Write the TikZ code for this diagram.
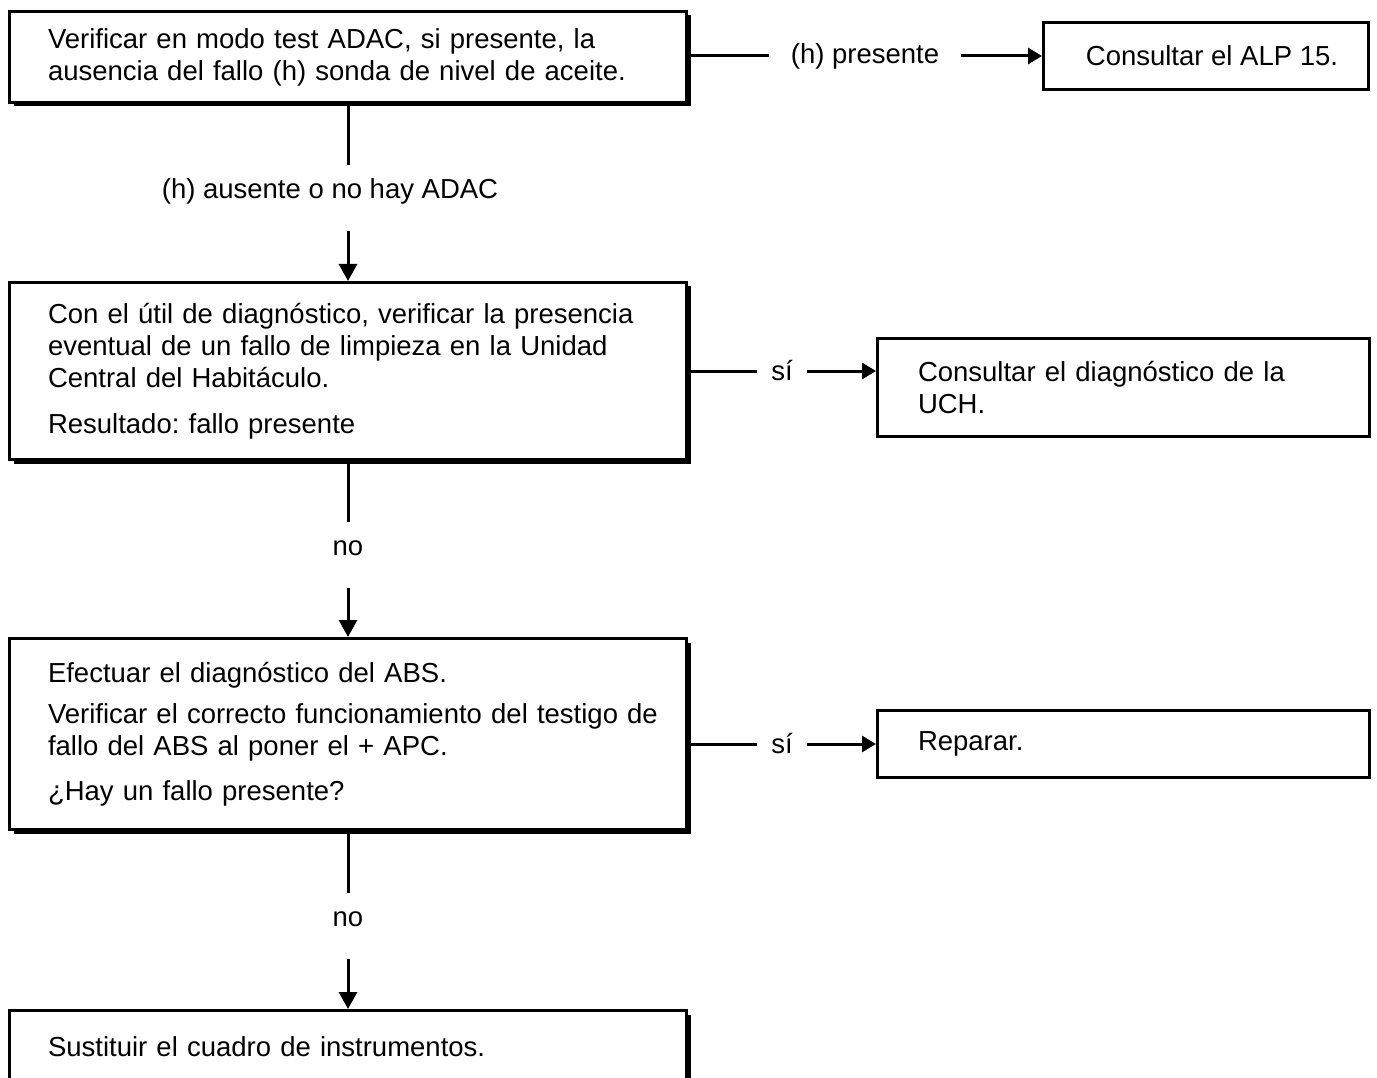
\documentclass[tikz,border=0pt]{standalone}
\usepackage{fontspec}
\setmainfont{Liberation Sans}
\usetikzlibrary{arrows.meta,shadows}
\begin{document}
\frenchspacing
\begin{tikzpicture}[x=1pt,y=-1pt,
  txt/.style={font={\fontsize{27.5}{32}\selectfont}},
  lbox/.style={txt,draw,line width=3pt,fill=white,anchor=north west,
    minimum width=677pt,text width=677pt,inner xsep=0pt,inner ysep=0pt,align=left,
    execute at begin node={\leftskip=38.5pt\relax},
    drop shadow={shadow xshift=4pt,shadow yshift=-4pt,opacity=1,fill=black}},
  rbox/.style={txt,draw,line width=3pt,fill=white,anchor=north west,
    text width=492pt,inner xsep=0pt,inner ysep=0pt,align=left,minimum width=492pt,
    execute at begin node={\leftskip=40.5pt\relax}},
  conn/.style={line width=3pt},
  varr/.style={conn,-{Triangle[width=18pt,length=17pt]}},
  harr/.style={conn,-{Triangle[width=16pt,length=14pt]}},
  vlab/.style={txt,fill=white,inner xsep=4pt,inner ysep=20pt,text height=13pt,text depth=13pt,yshift=-6pt},
  hlab/.style={txt,fill=white,inner ysep=4pt}]
\clip (0,0) rectangle (1377,1078);
\useasboundingbox (0,0) rectangle (1377,1078);
\fill[white] (0,0) rectangle (1377,1078);

\node[lbox,minimum height=91pt] (b1) at (8,10)
  {Verificar en modo test ADAC, si presente, la\\ausencia del fallo (h) sonda de nivel de aceite.};
\node[lbox,minimum height=177pt] (b2) at (8,281)
  {Con el útil de diagnóstico, verificar la presencia\\eventual de un fallo de limpieza en la Unidad\\Central del Habitáculo.\\[14pt]Resultado: fallo presente};
\node[lbox,minimum height=191pt] (b3) at (8,637)
  {Efectuar el diagnóstico del ABS.\\[9pt]Verificar el correcto funcionamiento del testigo de\\fallo del ABS al poner el + APC.\\[13pt]¿Hay un fallo presente?};
\node[lbox,minimum height=72pt] (b4) at (8,1009)
  {Sustituir el cuadro de instrumentos.};

\node[txt,draw,line width=3pt,fill=white,anchor=north west,minimum width=325pt,minimum height=67pt,align=center] (r1) at (1042,21)
  {\hspace*{12pt}Consultar el ALP 15.};
\node[rbox,minimum height=98pt] (r2) at (876,337)
  {Consultar el diagnóstico de la\\UCH.};
\node[rbox,minimum height=67pt] (r3) at (876,709)
  {Reparar.};

\draw[harr] (b1.east |- r1.west) -- node[hlab,inner xsep=22pt]{(h) presente} (r1.west);
\draw[harr] (b2.east) -- node[hlab,inner xsep=14pt]{sí} (r2.west |- b2.east);
\draw[harr] (b3.east |- r3.west) -- node[hlab,inner xsep=14pt]{sí} (r3.west);

\draw[varr] (b1.south) -- node[vlab,xshift=-18pt]{(h) ausente o no hay ADAC} (b2.north);
\draw[varr] (b2.south) -- node[vlab]{no} (b3.north);
\draw[varr] (b3.south) -- node[vlab]{no} (b4.north);
\end{tikzpicture}
\end{document}
